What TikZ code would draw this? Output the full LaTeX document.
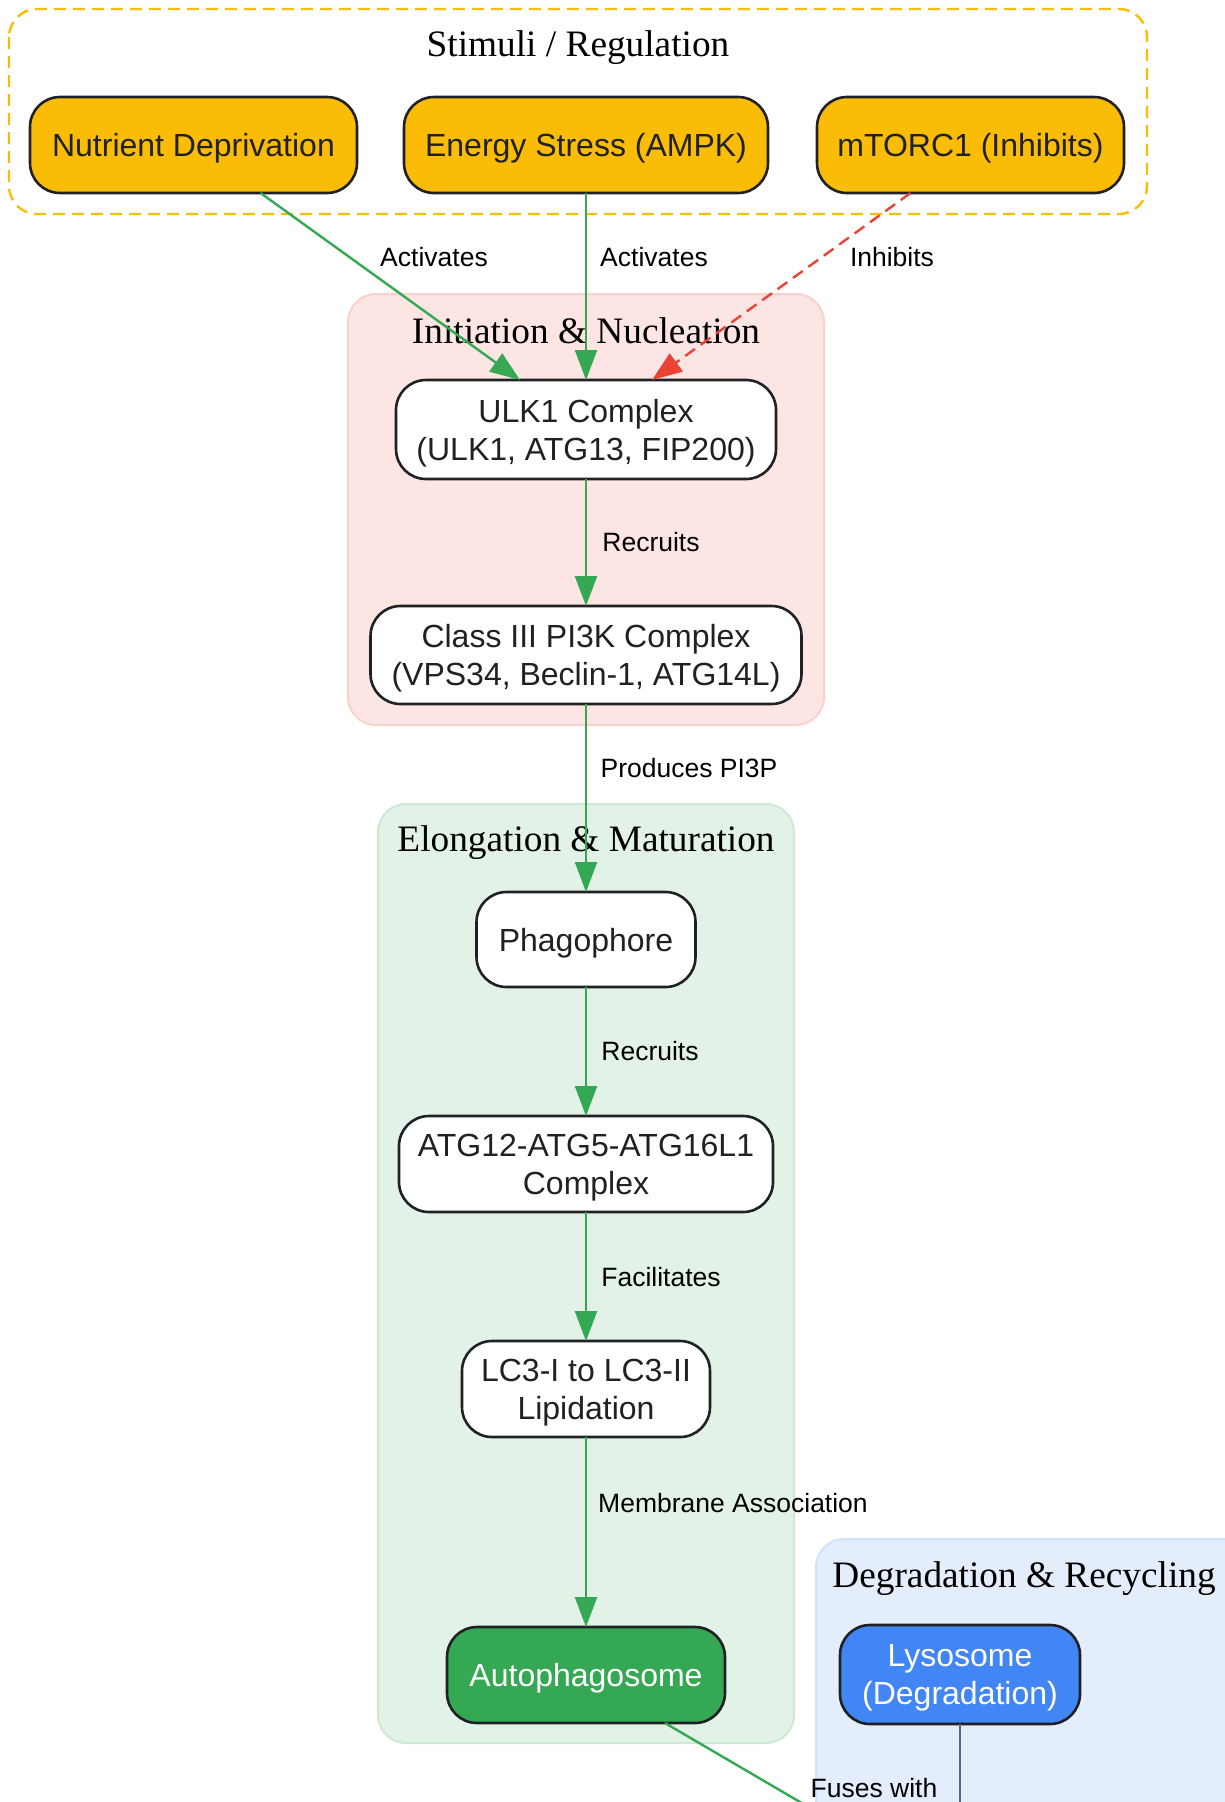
\documentclass[tikz,border=0pt]{standalone}
\usepackage{fontspec}
\setmainfont{Liberation Sans}
\newfontfamily\titlefont{Liberation Serif}
\usetikzlibrary{arrows.meta}
\definecolor{gyellow}{HTML}{FBBC05}
\definecolor{ggreen}{HTML}{34A853}
\definecolor{gred}{HTML}{EA4335}
\definecolor{gblue}{HTML}{4285F4}
\definecolor{ink}{HTML}{202124}
\definecolor{initfill}{HTML}{FCE5E2}
\definecolor{initdraw}{HTML}{F8D3CE}
\definecolor{elofill}{HTML}{E2F2E6}
\definecolor{elodraw}{HTML}{CDE9D4}
\definecolor{degfill}{HTML}{E4EDFC}
\definecolor{degdraw}{HTML}{D2E3FC}
\definecolor{ggray}{HTML}{5F6368}
\tikzset{
  box/.style={draw=ink, line width=2.6pt, rounded corners=30pt, fill=white, text=ink,
    align=center, inner sep=0pt, outer sep=0pt, text depth=0pt,
    font=\fontsize{32}{38}\selectfont},
  stim/.style={box, fill=gyellow},
  lbl/.style={font=\fontsize{26.5}{30}\selectfont, text=black, inner sep=0pt},
  ctitle/.style={font=\titlefont\fontsize{37.3}{42}\selectfont, text=black, inner sep=0pt},
  act/.style={draw=ggreen, line width=2.4pt, -{Triangle[length=30pt,width=22pt]}},
  inh/.style={draw=gred, line width=2.4pt, dash pattern=on 12pt off 7pt, -{Triangle[length=30pt,width=22pt]}},
  plain/.style={draw=ggray, line width=2.4pt},
}
\begin{document}
\begin{tikzpicture}[x=1pt,y=-1pt]
\useasboundingbox (0,0) rectangle (1225,1802);
\clip (0,0) rectangle (1225,1802);
% clusters
\draw[gyellow, line width=2.4pt, dash pattern=on 12pt off 7pt, rounded corners=28pt, fill=white] (9,9) rectangle (1147,214);
\draw[initdraw, line width=2pt, fill=initfill, rounded corners=28pt] (348,294) rectangle (824,725);
\draw[elodraw, line width=2pt, fill=elofill, rounded corners=28pt] (378,804) rectangle (794,1743);
\draw[degdraw, line width=2pt, fill=degfill, rounded corners=28pt] (816,1539) rectangle (1320,1950);
\node[ctitle] (tstim) at (578,47.5) {Stimuli / Regulation};
\node[ctitle] (tinit) at (586,331) {Initiation \& Nucleation};
\node[ctitle] (telo) at (586,842.5) {Elongation \& Maturation};
\node[ctitle] (tdeg) at (1024,1578.5) {Degradation \& Recycling};
% nodes
\node[stim, minimum width=327pt, minimum height=96pt] (nut) at (193.5,145) {Nutrient Deprivation};
\node[stim, minimum width=364pt, minimum height=96pt] (ener) at (586,145) {Energy Stress (AMPK)};
\node[stim, minimum width=307pt, minimum height=96pt] (mtor) at (970.5,145) {mTORC1 (Inhibits)};
\node[box, minimum width=380pt, minimum height=99pt] (ulk) at (586,429.5) {ULK1 Complex\\(ULK1, ATG13, FIP200)};
\node[box, minimum width=431pt, minimum height=98pt] (pik) at (586,655) {Class III PI3K Complex\\(VPS34, Beclin-1, ATG14L)};
\node[box, minimum width=219pt, minimum height=95pt] (phag) at (586,939.5) {Phagophore};
\node[box, minimum width=374pt, minimum height=96pt] (atg) at (586,1164) {ATG12-ATG5-ATG16L1\\Complex};
\node[box, minimum width=248pt, minimum height=96pt] (lc) at (586,1389) {LC3-I to LC3-II\\Lipidation};
\node[box, fill=ggreen, text=white, minimum width=278pt, minimum height=96pt] (auto) at (586,1675) {Autophagosome};
\node[box, fill=gblue, text=white, minimum width=240pt, minimum height=99pt] (lyso) at (960,1674.5) {Lysosome\\(Degradation)};
\coordinate (fuseend) at (935,1881);
\coordinate (lysoend) at (960,1900);
% edges
\draw[act] ([xshift=67pt]nut.south) -- ([xshift=-66pt]ulk.north);
\draw[act] (ener.south) -- (ulk.north);
\draw[inh] ([xshift=-60pt]mtor.south) -- ([xshift=66pt]ulk.north);
\draw[act] (ulk.south) -- (pik.north);
\draw[act] (pik.south) -- (phag.north);
\draw[act] (phag.south) -- (atg.north);
\draw[act] (atg.south) -- (lc.north);
\draw[act] (lc.south) -- (auto.north);
\draw[draw=ggreen, line width=2.4pt] ([xshift=79pt]auto.south) -- (fuseend);
\draw[plain] (lyso.south) -- (lysoend);
% edge labels
\node[lbl] (l1) at (434,257) {Activates};
\node[lbl] (l2) at (654,257) {Activates};
\node[lbl] (l3) at (892,257) {Inhibits};
\node[lbl] (l4) at (651,542) {Recruits};
\node[lbl] (l5) at (689,768) {Produces PI3P};
\node[lbl] (l6) at (650,1051) {Recruits};
\node[lbl] (l7) at (661,1277) {Facilitates};
\node[lbl] (l8) at (733,1503) {Membrane Association};
\node[lbl] (l9) at (874,1788) {Fuses with};
\end{tikzpicture}
\end{document}
